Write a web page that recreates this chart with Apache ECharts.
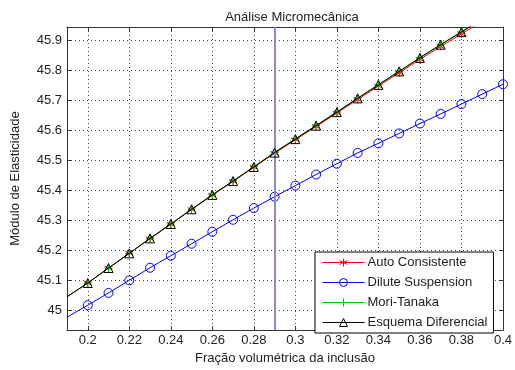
<!DOCTYPE html>
<html>
<head>
<meta charset="utf-8">
<script src="https://cdn.jsdelivr.net/npm/echarts@6/dist/echarts.min.js"></script>
<style>
  html, body { margin: 0; padding: 0; background: #fff; }
  #chart { width: 515px; height: 370px; }
</style>
</head>
<body>
<div id="chart"></div>
<script>
// Volume fraction of the inclusion
const fracoes = [0.19, 0.20, 0.21, 0.22, 0.23, 0.24, 0.25, 0.26, 0.27, 0.28, 0.29,
                 0.30, 0.31, 0.32, 0.33, 0.34, 0.35, 0.36, 0.37, 0.38, 0.39, 0.40];

// Elastic modulus for each micromechanical model
const autoConsistente = [45.045, 45.091, 45.141, 45.190, 45.239, 45.287, 45.336, 45.384, 45.430, 45.477, 45.524,
                         45.569, 45.613, 45.658, 45.703, 45.748, 45.792, 45.837, 45.880, 45.922, 45.965, 46.007];
const diluteSuspension = [44.977, 45.017, 45.058, 45.100, 45.142, 45.182, 45.222, 45.262, 45.302, 45.341, 45.379,
                          45.416, 45.453, 45.489, 45.525, 45.557, 45.590, 45.623, 45.655, 45.688, 45.721, 45.754];
const moriTanaka = [45.045, 45.091, 45.141, 45.190, 45.240, 45.288, 45.337, 45.385, 45.432, 45.479, 45.527,
                    45.572, 45.617, 45.662, 45.708, 45.753, 45.798, 45.843, 45.887, 45.929, 45.973, 46.016];
const esquemaDiferencial = [45.045, 45.091, 45.141, 45.190, 45.240, 45.288, 45.337, 45.385, 45.431, 45.478, 45.526,
                            45.571, 45.616, 45.661, 45.707, 45.752, 45.797, 45.842, 45.886, 45.928, 45.972, 46.015];

// Reference fraction marked with a vertical line
const fracaoReferencia = 0.29;

// Tick labels
const xTicks = [0.2, 0.22, 0.24, 0.26, 0.28, 0.3, 0.32, 0.34, 0.36, 0.38, 0.4];
const yTicks = [45, 45.1, 45.2, 45.3, 45.4, 45.5, 45.6, 45.7, 45.8, 45.9];

const FONT = '"Liberation Sans", Arial, Helvetica, sans-serif';
const TEXT_COLOR = '#222';
const X_MIN = 0.19, X_MAX = 0.40, Y_MIN = 44.934, Y_MAX = 45.945;

const fmt = v => String(Number(v.toFixed(3)));

// Points before 0.2 carry the line only, without a marker
function toPoints(values) {
  return values.map((y, i) => fracoes[i] < 0.195
    ? { value: [fracoes[i], y], symbol: 'none' }
    : [fracoes[i], y]);
}

const SYM_ASTERISK = 'path://M5,0L5,10M0.67,2.5L9.33,7.5M0.67,7.5L9.33,2.5';
const SYM_PLUS = 'path://M5,0L5,10M0,5L10,5';

const chart = echarts.init(document.getElementById('chart'), null, { renderer: 'canvas' });

const gridTick = { show: true, inside: true, length: 4, lineStyle: { color: '#333', width: 1 } };
const gridLine = { color: '#333', width: 1 };
const dotted = { show: true, lineStyle: { color: '#444', width: 1, type: [1, 3] } };

chart.setOption({
  animation: false,
  backgroundColor: '#fff',
  textStyle: { fontFamily: FONT },
  title: {
    text: 'Análise Micromecânica',
    left: 287, top: 6, textAlign: 'center',
    textStyle: { fontFamily: FONT, fontSize: 13, fontWeight: 'normal', color: TEXT_COLOR }
  },
  grid: { left: 67, right: 7, top: 27, bottom: 36, containLabel: false },
  legend: {
    orient: 'vertical',
    left: 315, top: 252,
    width: 179,
    padding: [4, 6, 4, 7],
    itemWidth: 42, itemHeight: 10, itemGap: 7,
    backgroundColor: '#fff',
    borderColor: '#000', borderWidth: 1, borderRadius: 0,
    lineStyle: { width: 1 },
    itemStyle: { borderWidth: 1 },
    textStyle: { fontFamily: FONT, fontSize: 13, color: TEXT_COLOR, padding: [0, 0, 0, -2] },
    data: ['Auto Consistente', 'Dilute Suspension', 'Mori-Tanaka', 'Esquema Diferencial']
  },
  xAxis: [{
    type: 'value', min: X_MIN, max: X_MAX,
    name: 'Fração volumétrica da inclusão', nameLocation: 'middle', nameGap: 21,
    nameTextStyle: { fontFamily: FONT, fontSize: 13, color: TEXT_COLOR },
    axisLine: { show: true, lineStyle: gridLine },
    axisTick: Object.assign({ customValues: xTicks }, gridTick),
    axisLabel: { customValues: xTicks, formatter: fmt, margin: 4,
                 fontFamily: FONT, fontSize: 13, color: TEXT_COLOR },
    splitLine: dotted
  }, {
    type: 'value', min: X_MIN, max: X_MAX, position: 'top',
    axisLine: { show: true, lineStyle: gridLine },
    axisTick: Object.assign({ customValues: xTicks }, gridTick),
    axisLabel: { show: false }, splitLine: { show: false }
  }],
  yAxis: [{
    type: 'value', min: Y_MIN, max: Y_MAX,
    name: 'Módulo de Elasticidade', nameLocation: 'middle', nameGap: 45,
    nameTextStyle: { fontFamily: FONT, fontSize: 13, color: TEXT_COLOR },
    axisLine: { show: true, lineStyle: gridLine },
    axisTick: Object.assign({ customValues: yTicks }, gridTick),
    axisLabel: { customValues: yTicks, formatter: fmt, margin: 5,
                 fontFamily: FONT, fontSize: 13, color: TEXT_COLOR },
    splitLine: dotted
  }, {
    type: 'value', min: Y_MIN, max: Y_MAX, position: 'right',
    axisLine: { show: true, lineStyle: gridLine },
    axisTick: Object.assign({ customValues: yTicks }, gridTick),
    axisLabel: { show: false }, splitLine: { show: false }
  }],
  series: [{
    name: 'Auto Consistente', type: 'line', clip: true,
    data: toPoints(autoConsistente),
    symbol: SYM_ASTERISK, symbolSize: 8,
    itemStyle: { color: 'rgba(0,0,0,0)', borderColor: '#ff0000', borderWidth: 1 },
    lineStyle: { color: '#ff0000', width: 1 },
    markLine: {
      silent: true, symbol: 'none', label: { show: false },
      lineStyle: { color: '#8a8ad6', width: 2, type: 'solid' },
      data: [{ xAxis: fracaoReferencia }]
    },
    z: 2
  }, {
    name: 'Dilute Suspension', type: 'line', clip: true,
    data: toPoints(diluteSuspension),
    symbol: 'circle', symbolSize: 9,
    itemStyle: { color: 'rgba(0,0,0,0)', borderColor: '#0000ff', borderWidth: 1 },
    lineStyle: { color: '#0000ff', width: 1 },
    z: 3
  }, {
    name: 'Mori-Tanaka', type: 'line', clip: true,
    data: toPoints(moriTanaka),
    symbol: SYM_PLUS, symbolSize: 8,
    itemStyle: { color: 'rgba(0,0,0,0)', borderColor: '#00c000', borderWidth: 1 },
    lineStyle: { color: '#00c000', width: 1 },
    z: 4
  }, {
    name: 'Esquema Diferencial', type: 'line', clip: true,
    data: toPoints(esquemaDiferencial),
    symbol: 'triangle', symbolSize: 9,
    itemStyle: { color: 'rgba(0,0,0,0)', borderColor: '#000000', borderWidth: 1 },
    lineStyle: { color: '#000000', width: 1 },
    z: 5
  }]
});
</script>
</body>
</html>
